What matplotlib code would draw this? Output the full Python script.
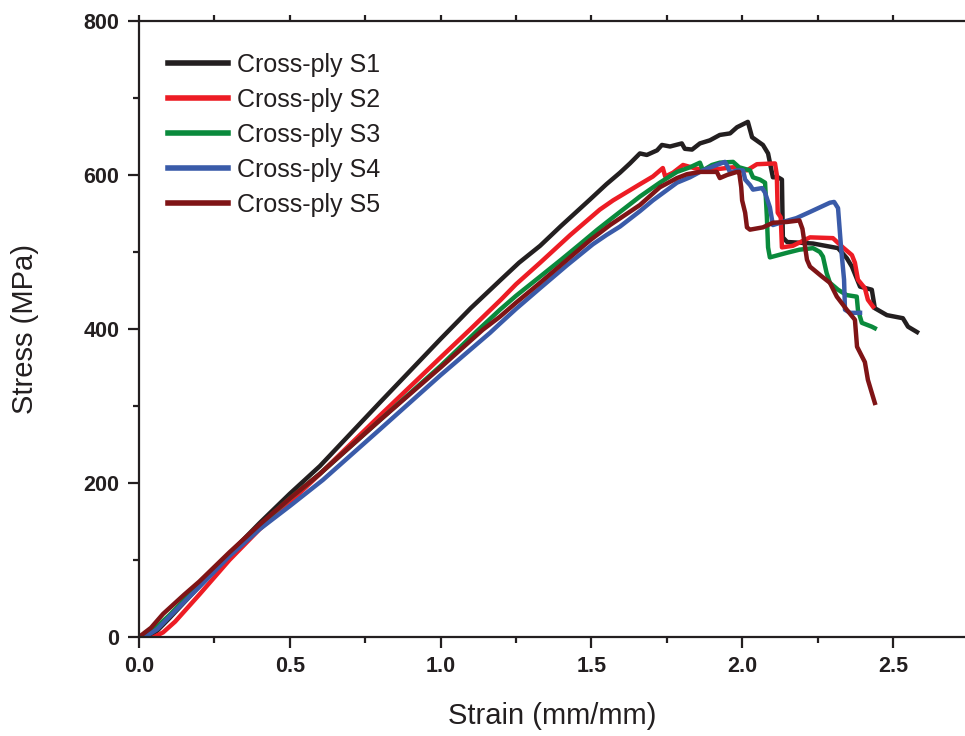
import numpy as np
import matplotlib
matplotlib.use("Agg")
import matplotlib.pyplot as plt
from matplotlib.ticker import MultipleLocator

plt.rcParams['font.family'] = ['Liberation Sans', 'DejaVu Sans']

labels = ['Cross-ply S1', 'Cross-ply S2', 'Cross-ply S3', 'Cross-ply S4', 'Cross-ply S5']
colors = ['#231f20', '#ed1c24', '#0a8a3c', '#3a5ba9', '#7f1416']

# strain / stress
s1_x = [0.03, 0.06, 0.10, 0.15, 0.20, 0.30, 0.40, 0.50, 0.60, 0.80, 1.00, 1.10, 1.20, 1.26, 1.33,
        1.40, 1.495, 1.55, 1.595, 1.628, 1.661, 1.684, 1.718, 1.734, 1.761, 1.800, 1.810, 1.834,
        1.860, 1.893, 1.926, 1.960, 1.983, 2.019, 2.033, 2.069, 2.086, 2.102, 2.119, 2.132,
        2.135, 2.149, 2.235, 2.318, 2.347, 2.364, 2.391, 2.430, 2.440, 2.480, 2.533, 2.550, 2.580]
s1_y = [0, 8, 24, 45, 66, 108, 148, 186, 222, 305, 387, 427, 464, 486, 508,
        534, 568, 588, 603, 615, 628, 626, 632, 639, 637, 641, 634, 633,
        641, 645, 652, 654, 662, 669, 649, 639, 628, 597, 597, 594,
        519, 513, 511, 505, 492, 481, 455, 451, 427, 418, 414, 403, 396]

s2_x = [0.05, 0.08, 0.12, 0.20, 0.30, 0.40, 0.50, 0.59, 0.80, 1.00, 1.097, 1.20, 1.25, 1.33,
        1.43, 1.528, 1.572, 1.661, 1.704, 1.737, 1.745, 1.771, 1.804, 1.85, 1.90, 1.926, 1.97,
        2.016, 2.049, 2.109, 2.115, 2.118, 2.128, 2.132, 2.168, 2.225, 2.301, 2.334, 2.364,
        2.374, 2.384, 2.407, 2.417, 2.434]
s2_y = [0, 6, 20, 55, 100, 140, 175, 208, 288, 363, 399, 438, 458, 486,
        522, 555, 567, 588, 598, 609, 598, 603, 613, 608, 607, 608, 610,
        606, 614, 615, 600, 551, 545, 506, 508, 519, 518, 506, 496,
        486, 464, 453, 438, 429]

s3_x = [0.01, 0.05, 0.10, 0.20, 0.30, 0.40, 0.50, 0.60, 0.80, 1.00, 1.12, 1.197, 1.25, 1.33,
        1.40, 1.462, 1.52, 1.572, 1.661, 1.727, 1.784, 1.827, 1.86, 1.87, 1.90, 1.926, 1.97,
        1.99, 2.026, 2.036, 2.059, 2.076, 2.082, 2.086, 2.092, 2.149, 2.19, 2.235, 2.258,
        2.268, 2.28, 2.291, 2.318, 2.347, 2.38, 2.384, 2.397, 2.430, 2.44]
s3_y = [0, 10, 28, 68, 108, 145, 180, 212, 282, 352, 397, 425, 443, 468,
        490, 510, 529, 545, 572, 590, 604, 610, 616, 606, 613, 616, 617,
        610, 606, 597, 594, 590, 546, 506, 493, 499, 503, 505, 500,
        494, 473, 460, 451, 444, 442, 425, 408, 403, 401]

s4_x = [0.02, 0.06, 0.10, 0.20, 0.30, 0.40, 0.50, 0.61, 0.80, 1.00, 1.164, 1.197, 1.25, 1.33,
        1.42, 1.505, 1.55, 1.595, 1.661, 1.704, 1.784, 1.827, 1.87, 1.916, 1.943, 1.953, 1.96,
        1.983, 2.003, 2.01, 2.026, 2.036, 2.066, 2.076, 2.092, 2.102, 2.135, 2.18, 2.225,
        2.258, 2.291, 2.305, 2.318, 2.328, 2.338, 2.341, 2.358, 2.391]
s4_y = [0, 10, 26, 65, 105, 140, 170, 204, 270, 340, 395, 407, 426, 453,
        483, 510, 522, 533, 553, 567, 590, 597, 606, 613, 617, 610, 603,
        606, 606, 594, 587, 581, 583, 577, 558, 535, 539, 544, 552,
        558, 564, 565, 557, 506, 464, 425, 421, 421]

s5_x = [0.0, 0.04, 0.08, 0.15, 0.20, 0.30, 0.40, 0.50, 0.60, 0.80, 1.00, 1.14, 1.197, 1.25,
        1.33, 1.42, 1.495, 1.562, 1.661, 1.727, 1.784, 1.817, 1.86, 1.916, 1.926, 1.95, 1.983,
        1.99, 1.997, 2.0, 2.01, 2.016, 2.026, 2.069, 2.102, 2.149, 2.19, 2.20, 2.215, 2.225,
        2.265, 2.291, 2.314, 2.347, 2.374, 2.381, 2.407, 2.417, 2.43, 2.44]
s5_y = [0, 12, 30, 55, 72, 110, 146, 180, 212, 282, 350, 399, 416, 434,
        460, 490, 515, 535, 561, 584, 596, 601, 604, 604, 596, 600, 604,
        604, 584, 567, 551, 532, 529, 532, 538, 539, 541, 530, 490, 481,
        468, 460, 442, 425, 412, 377, 357, 334, 317, 304]

series = [(s1_x, s1_y), (s2_x, s2_y), (s3_x, s3_y), (s4_x, s4_y), (s5_x, s5_y)]

fig = plt.figure(figsize=(9.65, 7.36), dpi=100)
ax = fig.add_axes([0.144, 0.1345, 0.856, 0.837])

for (x, y), c, lab in zip(series, colors, labels):
    ax.plot(x, y, color=c, lw=3.2, label=lab, solid_joinstyle='round')

ax.set_xlim(0, 2.739)
ax.set_ylim(0, 800)
ax.xaxis.set_minor_locator(MultipleLocator(0.25))
ax.yaxis.set_major_locator(MultipleLocator(200))
ax.yaxis.set_minor_locator(MultipleLocator(100))
ax.set_xticks([0, 0.5, 1.0, 1.5, 2.0, 2.5])
ax.set_xticklabels(['0.0', '0.5', '1.0', '1.5', '2.0', '2.5'])

ax.spines['right'].set_visible(False)
for sp in ['left', 'bottom', 'top']:
    ax.spines[sp].set_linewidth(1.6)
    ax.spines[sp].set_color('#231f20')

ax.tick_params(which='major', direction='out', length=8, width=1.6, color='#231f20',
               labelsize=15.5, pad=6)
ax.tick_params(which='minor', direction='out', length=4, width=1.6, color='#231f20')
for t in ax.get_xticklabels() + ax.get_yticklabels():
    t.set_fontweight('bold')
    t.set_color('#231f20')

# small ticks along the top edge
top = ax.secondary_xaxis('top')
top.set_xticks([0, 0.5, 1.0, 1.5, 2.0, 2.5])
top.xaxis.set_minor_locator(MultipleLocator(0.25))
top.tick_params(which='both', direction='out', length=4, width=1.6, color='#231f20',
                labeltop=False)
top.spines['top'].set_visible(False)

ax.set_xlabel('Strain (mm/mm)', fontsize=21, color='#231f20', labelpad=18)
ax.set_ylabel('Stress (MPa)', fontsize=21, color='#231f20', labelpad=32)

leg = ax.legend(loc='upper left', frameon=False, fontsize=18, handlelength=2.4,
                handletextpad=0.35, labelspacing=0.44, borderaxespad=0.0,
                bbox_to_anchor=(0.023, 0.965))
for line in leg.get_lines():
    line.set_linewidth(4)
for txt in leg.get_texts():
    txt.set_color('#231f20')

fig.savefig('out.png', dpi=100)
